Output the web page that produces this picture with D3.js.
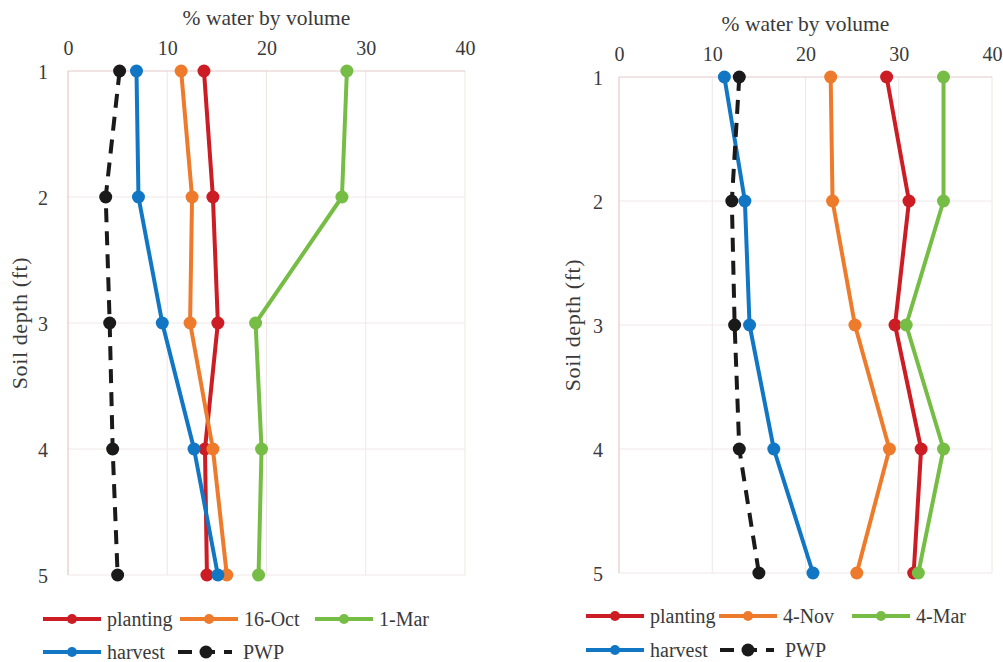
<!DOCTYPE html>
<html>
<head>
<meta charset="utf-8">
<script src="https://cdn.jsdelivr.net/npm/d3@7"></script>
<style>
  html, body { margin: 0; padding: 0; background: #ffffff; }
  svg { display: block; }
  svg text { font-family: 'Liberation Serif', 'Times New Roman', serif !important; fill: #3a3a3a; }
</style>
</head>
<body>
<svg id="chart" width="1003" height="662"></svg>
<script>
// ---------- data ----------
const depths = [1, 2, 3, 4, 5];
const xTicks = [0, 10, 20, 30, 40];

// left panel
const leftSeriesNames = ["planting", "16-Oct", "1-Mar", "harvest", "PWP"];
const leftPlanting = [13.7, 14.6, 15.1, 13.8, 14.0];
const leftOct16    = [11.4, 12.5, 12.3, 14.6, 16.0];
const leftMar1     = [28.1, 27.6, 18.9, 19.5, 19.2];
const leftHarvest  = [6.9, 7.1, 9.5, 12.7, 15.1];
const leftPWP      = [5.2, 3.8, 4.2, 4.5, 5.0];

// right panel
const rightSeriesNames = ["planting", "4-Nov", "4-Mar", "harvest", "PWP"];
const rightPlanting = [28.7, 31.1, 29.6, 32.4, 31.6];
const rightNov4     = [22.7, 22.9, 25.3, 29.0, 25.5];
const rightMar4     = [34.8, 34.8, 30.8, 34.8, 32.1];
const rightHarvest  = [11.3, 13.5, 14.0, 16.6, 20.8];
const rightPWP      = [12.9, 12.1, 12.4, 12.9, 15.0];

const colors = ["#cc1c24", "#ee7a2c", "#76bd45", "#1177c4", "#1a1a1a"];
const FONT = "'Liberation Serif', 'Times New Roman', serif";

// ---------- drawing ----------
const svg = d3.select("#chart");

function panel(cfg) {
  const x = d3.scaleLinear().domain([0, 40]).range([cfg.x0, cfg.x1]);
  const y = d3.scaleLinear().domain([1, 5]).range([cfg.y0, cfg.y1]);
  const g = svg.append("g").style("font-family", FONT);

  // gridlines
  g.selectAll("line.vg").data(xTicks.slice(1)).enter().append("line")
    .attr("x1", d => x(d)).attr("x2", d => x(d))
    .attr("y1", y(1)).attr("y2", y(5))
    .attr("stroke", "#efe6e6").attr("stroke-width", 1);
  g.selectAll("line.hg").data(depths.slice(1)).enter().append("line")
    .attr("x1", x(0)).attr("x2", x(40))
    .attr("y1", d => y(d)).attr("y2", d => y(d))
    .attr("stroke", "#f1e8e8").attr("stroke-width", 1);
  // axis lines (pinkish)
  g.append("line").attr("x1", x(0)).attr("x2", x(40)).attr("y1", y(1)).attr("y2", y(1))
    .attr("stroke", "#e6c9c9").attr("stroke-width", 1.2);
  g.append("line").attr("x1", x(0)).attr("x2", x(0)).attr("y1", y(1)).attr("y2", y(5))
    .attr("stroke", "#e6c9c9").attr("stroke-width", 1.2);

  // top axis tick labels via d3 axis
  const xAxis = d3.axisTop(x).tickValues(xTicks).tickSize(0).tickPadding(0);
  const xa = g.append("g").attr("transform", `translate(0,${cfg.xTickY})`).call(xAxis)
    .attr("font-family", null).attr("font-size", null);
  xa.select(".domain").remove();
  xa.selectAll("text").style("font-size", "20px").style("font-family", FONT).attr("fill", "#3a3a3a").attr("dy", 0);

  // left axis tick labels
  const yAxis = d3.axisLeft(y).tickValues(depths).tickSize(0).tickPadding(0).tickFormat(d3.format("d"));
  const ya = g.append("g").attr("transform", `translate(${cfg.yTickX},0)`).call(yAxis)
    .attr("font-family", null).attr("font-size", null);
  ya.select(".domain").remove();
  ya.selectAll("text").style("font-size", "20px").style("font-family", FONT).attr("fill", "#3a3a3a").attr("dy", "0.35em");

  // titles
  g.append("text").attr("x", (x(0) + x(40)) / 2).attr("y", cfg.titleY)
    .attr("text-anchor", "middle").style("font-size", "21.5px").style("font-family", FONT).text("% water by volume");
  g.append("text").attr("transform", `translate(${cfg.yTitleX},${(y(1) + y(5)) / 2}) rotate(-90)`)
    .attr("text-anchor", "middle").style("font-size", "22px").style("letter-spacing", "0.6px")
    .style("font-family", FONT).text("Soil depth (ft)");

  // series
  const line = d3.line().x(d => x(d.v)).y(d => y(d.depth));
  cfg.series.forEach((vals, i) => {
    const pts = vals.map((v, k) => ({ v, depth: depths[k] }));
    const isPWP = i === 4;
    g.append("path").datum(pts)
      .attr("d", line).attr("fill", "none")
      .attr("stroke", colors[i]).attr("stroke-width", 4)
      .attr("stroke-dasharray", isPWP ? "14,9" : null)
      .attr("stroke-linejoin", "round");
  });
  cfg.series.forEach((vals, i) => {
    g.selectAll(null).data(vals.map((v, k) => ({ v, depth: depths[k] }))).enter().append("circle")
      .attr("cx", d => x(d.v)).attr("cy", d => y(d.depth)).attr("r", 6.5)
      .attr("fill", colors[i]);
  });

  // legend
  const lg = g.append("g");
  cfg.legend.forEach((item, i) => {
    const isPWP = i === 4;
    const it = lg.append("g").attr("transform", `translate(${item[0]},${item[1]})`);
    it.append("line").attr("x1", 0).attr("x2", isPWP ? 54 : 58).attr("y1", 0).attr("y2", 0)
      .attr("stroke", colors[i]).attr("stroke-width", 4)
      .attr("stroke-dasharray", isPWP ? "14,9" : null);
    it.append("circle").attr("cx", isPWP ? 28 : 29).attr("cy", 0).attr("r", isPWP ? 6.5 : 5).attr("fill", colors[i]);
    it.append("text").attr("x", isPWP ? 65 : 64).attr("y", 0).attr("dy", "0.33em")
      .style("font-size", "20px").style("font-family", FONT).text(cfg.names[i]);
  });
}

panel({
  x0: 68, x1: 465, y0: 71, y1: 575,
  xTickY: 55, yTickX: 48, titleY: 25, yTitleX: 27,
  series: [leftPlanting, leftOct16, leftMar1, leftHarvest, leftPWP],
  names: leftSeriesNames,
  legend: [[43, 619], [180, 619], [315, 619], [43, 652], [178, 652]]
});

panel({
  x0: 619, x1: 992, y0: 77, y1: 573,
  xTickY: 61, yTickX: 603, titleY: 31, yTitleX: 580,
  series: [rightPlanting, rightNov4, rightMar4, rightHarvest, rightPWP],
  names: rightSeriesNames,
  legend: [[586, 616], [719, 616], [852, 616], [586, 650], [720, 650]]
});
</script>
</body>
</html>
